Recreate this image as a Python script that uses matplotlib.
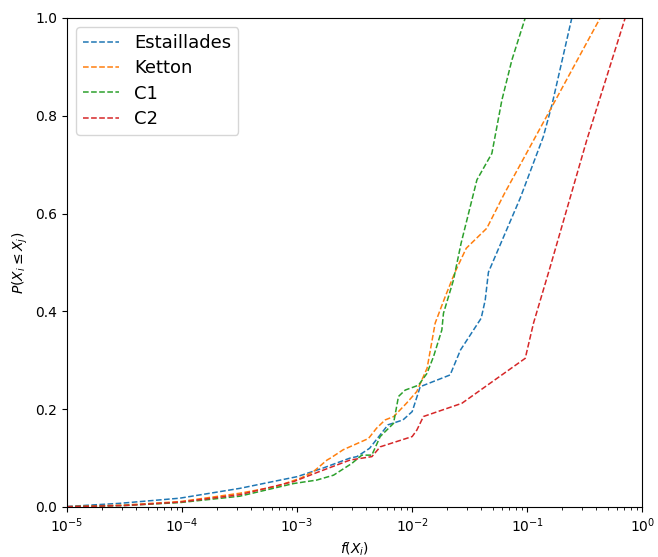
import numpy as np
import matplotlib
matplotlib.use("Agg")
import matplotlib.pyplot as plt

# Cumulative distributions: log10 of f(X_i) and the matching probability
estaillades_logf = [-5.0, -4.54, -4.02, -3.5, -3.21, -3.0, -2.77, -2.54, -2.48, -2.37,
                    -2.28, -2.21, -2.08, -2.0, -1.93, -1.67, -1.58, -1.40, -1.365,
                    -1.337, -1.06, -0.86, -0.785, -0.612]
estaillades_p = [0.001, 0.0075, 0.018, 0.038, 0.052, 0.062, 0.08, 0.1, 0.103, 0.12,
                 0.147, 0.168, 0.178, 0.195, 0.246, 0.27, 0.321, 0.386, 0.423,
                 0.48, 0.632, 0.757, 0.822, 1.0]

ketton_logf = [-5.0, -4.5, -4.02, -3.5, -3.18, -2.97, -2.86, -2.74, -2.71, -2.6, -2.38,
               -2.31, -2.235, -2.16, -2.05, -1.96, -1.87, -1.8, -1.713, -1.626,
               -1.53, -1.351, -1.2, -0.8, -0.365]
ketton_p = [0.0005, 0.004, 0.011, 0.028, 0.042, 0.059, 0.072, 0.096, 0.1, 0.117, 0.14,
            0.161, 0.178, 0.185, 0.212, 0.236, 0.284, 0.376, 0.43, 0.481,
            0.529, 0.57, 0.64, 0.812, 1.0]

c1_logf = [-5.0, -4.5, -4.02, -3.5, -3.03, -2.83, -2.684, -2.525, -2.438, -2.351,
           -2.278, -2.162, -2.119, -2.061, -1.945, -1.872, -1.815, -1.742,
           -1.728, -1.641, -1.575, -1.437, -1.307, -1.22, -1.133, -1.017]
c1_p = [0.0005, 0.003, 0.009, 0.022, 0.048, 0.055, 0.065, 0.089, 0.106, 0.106,
        0.144, 0.171, 0.226, 0.239, 0.249, 0.273, 0.307, 0.362,
        0.396, 0.464, 0.539, 0.669, 0.723, 0.832, 0.914, 1.0]

c2_logf = [-5.0, -4.5, -4.02, -3.5, -3.03, -2.8, -2.54, -2.35, -2.278, -2.0, -1.96,
           -1.902, -1.568, -1.017, -0.945, -0.8, -0.481, -0.148]
c2_p = [0.0005, 0.003, 0.01, 0.025, 0.052, 0.073, 0.096, 0.103, 0.123, 0.144, 0.157,
        0.185, 0.212, 0.304, 0.376, 0.491, 0.751, 1.0]

series = [
    ("Estaillades", estaillades_logf, estaillades_p, "#1f77b4"),
    ("Ketton", ketton_logf, ketton_p, "#ff7f0e"),
    ("C1", c1_logf, c1_p, "#2ca02c"),
    ("C2", c2_logf, c2_p, "#d62728"),
]

fig = plt.figure(figsize=(6.58, 5.57), dpi=100)
ax = fig.add_axes([0.102, 0.0898, 0.874, 0.878])

for name, logf, p, color in series:
    ax.plot(10.0 ** np.array(logf), p, linestyle="--", linewidth=1.1,
            color=color, label=name)

ax.set_xscale("log")
ax.set_xlim(1e-5, 1)
ax.set_ylim(0, 1)
ax.set_xlabel(r"$f(X_i)$")
ax.set_ylabel(r"$P(X_i \leq X_j)$")
ax.legend(loc="upper left", fontsize=13, labelspacing=0.4)

fig.savefig("out.png", dpi=100)
